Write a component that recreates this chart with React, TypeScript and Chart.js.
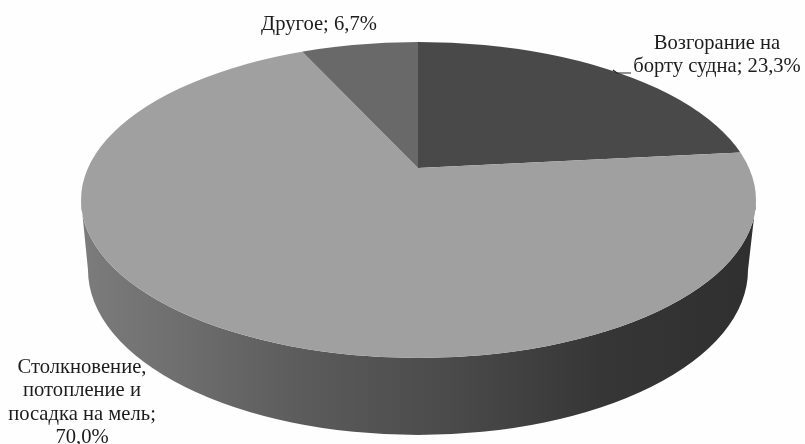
import React, { useEffect, useRef } from "react";
import { Chart, registerables } from "chart.js";

Chart.register(...registerables);

const categories = ["Возгорание на борту судна", "Столкновение, потопление и посадка на мель", "Другое"];
const shares = [23.3, 70.0, 6.7];
const sliceColors = ["#494949", "#a0a0a0", "#696969"];

const FONT = '20.6px "Liberation Serif", serif';
const W = 805;
const H = 444;

// projection of the round pie on the page
const APEX = { x: 418, y: 168 };
const TOP = { cx: 418.5, cy: 200, rx: 337.5, ry: 158 };
const BOTTOM = { cx: 418, cy: 270, rx: 330, ry: 165 };
const SQUASH = 0.45;
const REACH = 450;

const pct = (v: number) => v.toFixed(1).replace(".", ",") + "%";

const labelLines: { x: number; y: number; text: string }[] = [
  { x: 319, y: 30, text: `${categories[2]}; ${pct(shares[2])}` },
  { x: 717, y: 49, text: "Возгорание на" },
  { x: 717, y: 72, text: `борту судна; ${pct(shares[0])}` },
  { x: 82, y: 373, text: "Столкновение," },
  { x: 82, y: 396, text: "потопление и" },
  { x: 82, y: 420, text: "посадка на мель;" },
  { x: 82, y: 443, text: pct(shares[1]) },
];

const pie3d = {
  id: "pie3d",
  beforeDatasetsDraw(chart: any) {
    const ctx = chart.ctx;
    const arc = chart.getDatasetMeta(0).data[0];
    // side wall
    const g = ctx.createLinearGradient(TOP.cx - TOP.rx, 0, TOP.cx + TOP.rx, 0);
    g.addColorStop(0, "#7c7c7c");
    g.addColorStop(0.15, "#6e6e6e");
    g.addColorStop(0.32, "#5c5c5c");
    g.addColorStop(0.55, "#4a4a4a");
    g.addColorStop(0.77, "#363636");
    g.addColorStop(1, "#2f2f2f");
    ctx.save();
    ctx.beginPath();
    ctx.ellipse(BOTTOM.cx, BOTTOM.cy, BOTTOM.rx, BOTTOM.ry, 0, 0, Math.PI);
    ctx.ellipse(TOP.cx, TOP.cy, TOP.rx, TOP.ry, 0, Math.PI, 0, true);
    ctx.closePath();
    ctx.fillStyle = g;
    ctx.fill();
    ctx.restore();
    // top face: library arcs, squashed around the apex and cut by the rim
    ctx.save();
    ctx.beginPath();
    ctx.ellipse(TOP.cx, TOP.cy, TOP.rx, TOP.ry, 0, 0, Math.PI * 2);
    ctx.clip();
    const s = REACH / arc.outerRadius;
    ctx.translate(APEX.x, APEX.y);
    ctx.scale(s, s * SQUASH);
    ctx.translate(-arc.x, -arc.y);
  },
  afterDatasetsDraw(chart: any) {
    const ctx = chart.ctx;
    ctx.restore();
    // leader line
    ctx.save();
    ctx.strokeStyle = "#222222";
    ctx.lineWidth = 1.2;
    ctx.beginPath();
    ctx.moveTo(613, 70);
    ctx.lineTo(617, 73);
    ctx.lineTo(631, 73);
    ctx.stroke();
    // labels
    ctx.fillStyle = "#1c1c1c";
    ctx.font = FONT;
    ctx.textAlign = "center";
    ctx.textBaseline = "alphabetic";
    for (const l of labelLines) ctx.fillText(l.text, l.x, l.y);
    ctx.restore();
  },
};

export default function App() {
  const ref = useRef<HTMLCanvasElement>(null);
  useEffect(() => {
    const chart = new Chart(ref.current!, {
      type: "pie",
      data: {
        labels: categories,
        datasets: [{ data: shares, backgroundColor: sliceColors, borderWidth: 0, clip: false } as any],
      },
      options: {
        animation: false,
        responsive: false,
        devicePixelRatio: 1,
        plugins: { legend: { display: false }, tooltip: { enabled: false } },
      },
      plugins: [pie3d],
    });
    return () => chart.destroy();
  }, []);
  return (
    <div style={{ position: "fixed", left: 0, top: 0, width: W, height: H, background: "#fefefe" }}>
      <canvas ref={ref} width={W} height={H} style={{ display: "block", filter: "blur(0.6px)" }} />
    </div>
  );
}
